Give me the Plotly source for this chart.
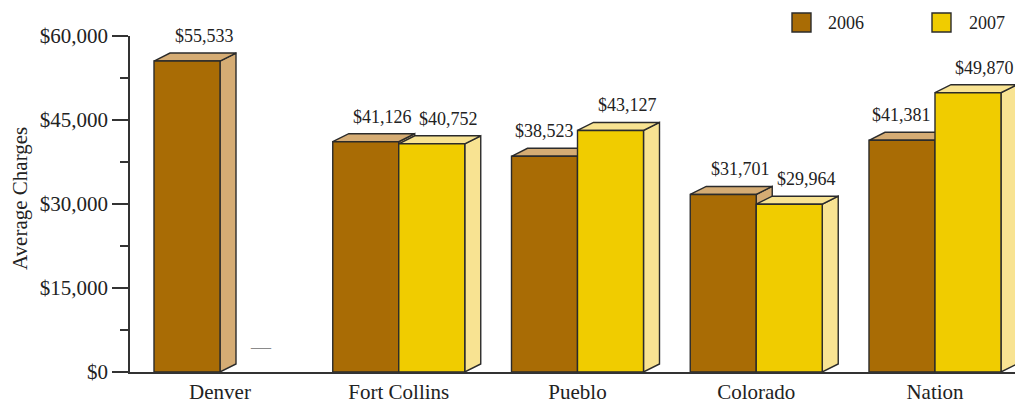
import plotly.graph_objects as go

# Average charges by region, 2006 vs 2007
regions = ["Denver", "Fort Collins", "Pueblo", "Colorado", "Nation"]
charges_2006 = [55533, 41126, 38523, 31701, 41381]
charges_2007 = [None, 40752, 43127, 29964, 49870]
series_names = ["2006", "2007"]
y_ticks = [0, 15000, 30000, 45000, 60000]
y_tick_labels = ["${:,}".format(t) for t in y_ticks]

# Figure geometry (pixels)
W, H = 1015, 400
ML, MR, MT, MB = 130, 0, 36, 28
PW, PH = W - ML - MR, H - MT - MB
X_RANGE = [-0.5035, 4.4476]
Y_RANGE = [0, 60000]

# Convert pixel extents into axis units so the 3D depth is fixed on screen
ux = (X_RANGE[1] - X_RANGE[0]) / PW
uy = (Y_RANGE[1] - Y_RANGE[0]) / PH
DX = 16 * ux
DY = 8 * uy
BAR_W = 66 * ux

FRONT = ["#A96C05", "#F0CC00"]
SHADE = ["#D5AC74", "#F8E392"]
EDGE = "#2B2B2B"
FONT = "Liberation Serif"

fig = go.Figure()


def poly(xs, ys, color):
    fig.add_trace(go.Scatter(
        x=xs + [xs[0]], y=ys + [ys[0]], mode="lines", fill="toself",
        fillcolor=color, line=dict(color=EDGE, width=1.4),
        hoverinfo="skip", showlegend=False))


for s, values in enumerate([charges_2006, charges_2007]):
    for i, v in enumerate(values):
        if v is None:
            continue
        x0 = i - BAR_W if s == 0 else i
        x1 = x0 + BAR_W
        # side face
        poly([x1, x1 + DX, x1 + DX, x1], [0, DY, v + DY, v], SHADE[s])
        # top face
        poly([x0, x0 + DX, x1 + DX, x1], [v, v + DY, v + DY, v], SHADE[s])
        # front face
        poly([x0, x1, x1, x0], [0, 0, v, v], FRONT[s])

annotations = []
for s, values in enumerate([charges_2006, charges_2007]):
    for i, v in enumerate(values):
        x0 = i - BAR_W if s == 0 else i
        xc = x0 + BAR_W / 2
        if v is None:
            annotations.append(dict(
                x=xc + DX / 2, y=0, text="\u2014", showarrow=False,
                yanchor="middle", yshift=25,
                font=dict(family=FONT, size=20, color="#8A8A8A")))
            continue
        other = charges_2007[i] if s == 0 else None
        shift = 0 if (other is not None and other > v) else 17
        annotations.append(dict(
            x=xc, y=v, text="${:,}".format(v), showarrow=False,
            xanchor="center", yanchor="bottom", xshift=shift, yshift=13,
            font=dict(family=FONT, size=18, color="#222222")))

# y-axis title
annotations.append(dict(
    xref="paper", yref="paper", x=(20 - ML) / PW, y=(H - MB - 199) / PH,
    text="Average Charges", textangle=-90, showarrow=False,
    xanchor="center", yanchor="middle",
    font=dict(family=FONT, size=21, color="#222222")))


def px_x(p):
    return (p - ML) / PW


def px_y(p):
    return (H - MB - p) / PH


# legend swatches and labels
shapes = []
for s, (bx, tx) in enumerate([(792, 826), (932, 967)]):
    shapes.append(dict(
        type="rect", xref="paper", yref="paper",
        x0=px_x(bx), x1=px_x(bx + 19), y0=px_y(32), y1=px_y(13),
        fillcolor=FRONT[s], line=dict(color=EDGE, width=1.4)))
    annotations.append(dict(
        xref="paper", yref="paper", x=px_x(tx), y=px_y(23),
        text=series_names[s], showarrow=False,
        xanchor="left", yanchor="middle",
        font=dict(family=FONT, size=18, color="#222222")))

fig.update_layout(
    width=W, height=H,
    margin=dict(l=ML, r=MR, t=MT, b=MB, autoexpand=False),
    plot_bgcolor="white", paper_bgcolor="white",
    showlegend=False,
    annotations=annotations,
    shapes=shapes,
    font=dict(family=FONT, size=21, color="#222222"),
)
fig.update_xaxes(
    range=X_RANGE, tickvals=list(range(len(regions))), ticktext=regions,
    showgrid=False, zeroline=False, showline=True, linecolor="#333333",
    linewidth=1.5, ticks="", tickfont=dict(family=FONT, size=21),
    fixedrange=True, automargin=False,
)
fig.update_yaxes(
    range=Y_RANGE, tickmode="array", tickvals=y_ticks, ticktext=y_tick_labels,
    showgrid=False, zeroline=False, showline=True, linecolor="#333333",
    linewidth=1.5, ticks="outside", ticklen=16, tickwidth=1.5,
    tickcolor="#333333", tickfont=dict(family=FONT, size=21),
    minor=dict(dtick=7500, tick0=0, ticks="outside", ticklen=8,
               tickwidth=1.5, tickcolor="#333333"),
    fixedrange=True, automargin=False,
)

fig.write_html("out.html")
